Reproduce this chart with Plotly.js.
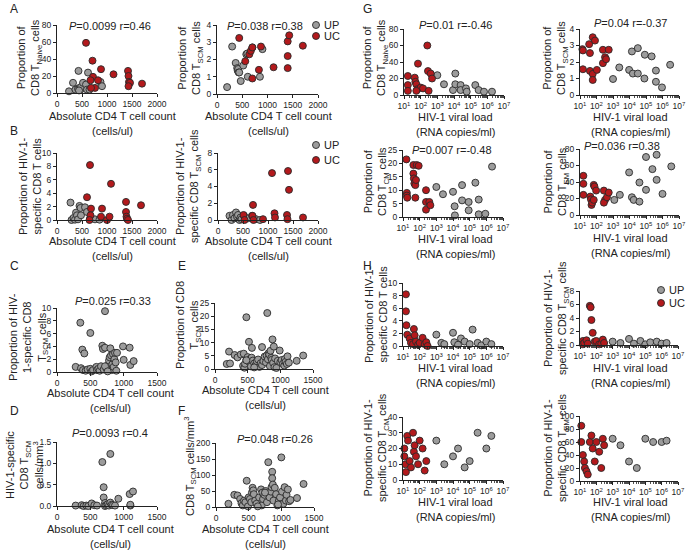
<!DOCTYPE html>
<html><head><meta charset="utf-8">
<script src="https://cdn.plot.ly/plotly-3.0.1.min.js"></script>
<style>html,body{margin:0;padding:0;background:#fff;overflow:hidden}</style>
</head><body><div id="chart" style="width:696px;height:553px"></div>
<script>
// ---------------- DATA ----------------
// Panel A (left): CD8 TNaive proportion vs CD4 count
const A1_UP_x = [240, 320, 370, 420, 430, 450, 470, 480, 520, 580, 600, 620, 650, 870, 900, 440];
const A1_UP_y = [2, 12, 4, 5, 26, 6, 4, 7, 12, 10, 4, 24, 4, 13, 8, 3];
const A1_UC_x = [580, 710, 720, 670, 880, 820, 760, 680, 1130, 1420, 1430, 1440, 1460, 1430, 1700];
const A1_UC_y = [59, 38, 19, 15, 28, 15, 6, 6, 22, 26, 20, 13, 12, 8, 11];
// Panel A (right): CD8 TSCM proportion vs CD4 count
const A2_UP_x = [200, 300, 370, 400, 410, 420, 430, 440, 470, 520, 580, 600, 610, 700, 850, 900];
const A2_UP_y = [0.4, 2.75, 1.8, 1.5, 1.35, 1.45, 1.25, 1.25, 0.75, 1.65, 2.3, 2.35, 1.0, 2.7, 1.0, 2.6];
const A2_UC_x = [440, 560, 640, 670, 700, 700, 830, 870, 1120, 1400, 1430, 1400, 1400, 1700];
const A2_UC_y = [3.25, 1.9, 2.3, 2.5, 2.7, 0.9, 1.4, 2.75, 1.55, 3.05, 3.4, 2.2, 1.5, 2.8];
// Panel B (left): HIV-1-specific CD8 T cells vs CD4 count
const B1_UP_x = [270, 290, 330, 360, 380, 400, 420, 450, 470, 480, 560, 600, 660, 760, 850];
const B1_UP_y = [2.6, 0, 0.3, 0.05, 1.1, 0.7, 0.1, 2.1, 1.8, 0.7, 1.9, 1.2, 0.2, 0.1, 0.05];
const B1_UC_x = [600, 660, 680, 670, 650, 880, 900, 1000, 1050, 1080, 1380, 1380, 1390, 1400, 1420, 1680];
const B1_UC_y = [3.4, 8.2, 1.7, 0.7, 0, 0.5, 1.7, 0, 0.5, 5.4, 2.7, 1.2, 0.5, 0.2, 0, 2.2];
// Panel B (right): HIV-1-specific CD8 TSCM vs CD4 count
const B2_UP_x = [230, 270, 300, 330, 360, 380, 400, 430, 450, 470, 520, 600, 680, 760, 840];
const B2_UP_y = [0.5, 0, 0.6, 0.2, 0.9, 0.4, 0.6, 0, 0.3, 0.1, 0.5, 0.2, 0.5, 0.1, 0];
const B2_UC_x = [510, 530, 700, 690, 710, 900, 1080, 1130, 1140, 1400, 1420, 1380, 1390, 1700];
const B2_UC_y = [0.6, 0, 1.8, 0.5, 0, 0.1, 5.6, 0.8, 0.3, 5.85, 3.6, 0.6, 0.1, 0.3];
// Panel C: HIV-1-specific CD8 TSCM proportion vs CD4
const C_x = [280, 360, 390, 430, 460, 500, 520, 540, 350, 380, 410, 500, 590, 600, 620, 640, 660, 680, 690, 700, 720, 720, 740, 760, 780, 790, 800, 810, 820, 830, 840, 850, 860, 870, 880, 890, 900, 990, 1000, 1090, 1100, 1150, 720, 760];
const C_y = [0.8, 0.6, 0.3, 0.2, 0.4, 0.5, 0.1, 0.3, 7.7, 3.5, 2.9, 6.1, 0.8, 0.3, 0.5, 0.2, 0.9, 4.1, 3.6, 0.4, 9.5, 3.8, 0.6, 1.0, 1.8, 2.3, 3.7, 2.6, 0.3, 1.2, 2.8, 0.8, 2.0, 3.0, 1.5, 0.2, 3.0, 4.0, 1.9, 3.8, 1.1, 1.7, 0.9, 0.1];
// Panel D: HIV-1-specific CD8 TSCM cells/mm3 vs CD4
const D_x = [280, 370, 400, 440, 470, 520, 560, 600, 680, 700, 700, 720, 720, 740, 760, 780, 800, 800, 820, 840, 870, 920, 1090, 1100, 1140, 1100];
const D_y = [0.01, 0.02, 0, 0.01, 0, 0.06, 0.02, 0.01, 1.03, 0.44, 0.2, 0.07, 0, 0.02, 0.04, 0.01, 1.22, 0.08, 0.03, 0.02, 0.01, 0.17, 0.28, 0.01, 0.34, 0.03];
// Panel E: CD8 TSCM proportion vs CD4
const E_x = [180, 230, 215, 300, 345, 395, 440, 480, 520, 565, 430, 450, 460, 480, 500, 520, 540, 550, 560, 580, 600, 620, 640, 660, 680, 700, 720, 720, 740, 760, 780, 790, 800, 810, 820, 830, 840, 850, 860, 870, 880, 890, 900, 910, 920, 940, 960, 990, 1000, 1020, 1040, 1060, 1070, 1080, 1100, 1110, 1130, 1250, 1350, 480, 600];
const E_y = [1.9, 2.1, 6.6, 5.3, 4.4, 5.5, 5.8, 19.6, 10.3, 8.0, 1.2, 0.5, 2.0, 3.5, 4.5, 2.8, 3.8, 1.0, 4.3, 3.2, 2.1, 1.4, 2.9, 3.6, 0.8, 2.2, 8.3, 1.5, 3.0, 4.7, 2.5, 5.1, 21.2, 3.7, 6.0, 5.5, 1.1, 6.9, 4.2, 3.5, 11.2, 2.3, 8.5, 0.7, 4.0, 0.4, 3.1, 7.0, 2.6, 3.4, 2.0, 1.3, 3.8, 2.7, 1.9, 4.8, 2.4, 3.1, 5.1, 3.3, 0.6];
// Panel F: CD8 TSCM cells/mm3 vs CD4
const F_x = [190, 280, 330, 370, 390, 410, 430, 450, 470, 490, 500, 520, 540, 550, 560, 570, 580, 600, 620, 660, 690, 700, 710, 720, 740, 760, 780, 800, 820, 840, 850, 860, 860, 870, 880, 900, 920, 940, 960, 980, 1000, 1010, 1030, 1050, 1070, 1080, 1100, 1120, 1140, 1240, 1340, 640, 750, 950];
const F_y = [10, 38, 36, 25, 12, 5, 20, 15, 82, 2, 30, 25, 15, 45, 60, 52, 40, 20, 10, 30, 55, 5, 45, 25, 38, 50, 15, 140, 30, 48, 62, 110, 90, 70, 20, 60, 40, 5, 18, 30, 155, 48, 10, 62, 20, 38, 55, 18, 22, 28, 72, 2, 45, 8];
// Panel G: vs HIV-1 viral load (RNA copies/ml)
const G1_UC_x = [17, 17, 17, 44, 48, 55, 63, 69, 100, 138, 250, 275, 300, 400, 480, 55];
const G1_UC_y = [23, 12, 5, 21, 16, 13, 7, 38, 9, 8, 60, 29, 5, 26, 20, 5];
const G1_UP_x = [1000, 2500, 8700, 12000, 12000, 25000, 25000, 52000, 58000, 190000, 300000, 630000, 1900000];
const G1_UP_y = [24, 13, 6, 26, 13, 12, 6, 8, 4, 12, 6, 4, 4];
const G2_UC_x = [14, 15, 15, 36, 40, 59, 81, 40, 59, 59, 105, 245, 245, 330, 380, 550];
const G2_UC_y = [2.78, 2.7, 1.56, 3.08, 2.54, 3.5, 3.3, 1.46, 1.28, 0.91, 1.52, 2.74, 1.93, 2.29, 2.17, 2.74];
const G2_UP_x = [1000, 2400, 9500, 14000, 16000, 32000, 32000, 80000, 85000, 220000, 400000, 400000, 930000, 2900000];
const G2_UP_y = [0.97, 1.67, 1.52, 2.64, 1.3, 2.84, 1.3, 1.0, 2.44, 2.34, 1.48, 0.8, 0.46, 1.83];
const G3_UC_x = [16, 17, 17, 18, 42, 42, 45, 48, 55, 60, 55, 66, 87, 240, 240, 240, 380, 440];
const G3_UC_y = [21.5, 9, 8, 7.2, 19.4, 16.2, 14.4, 12.5, 11.9, 13.8, 7.2, 19.4, 19.1, 10, 5.6, 2.75, 5.6, 4.4];
const G3_UP_x = [1000, 2500, 10000, 12500, 13000, 35000, 35000, 87000, 87000, 220000, 350000, 350000, 870000, 2200000];
const G3_UP_y = [11.2, 8.5, 9.4, 4, 0.6, 11.9, 6.2, 5.6, 2.5, 12.8, 6.5, 1.0, 1.2, 18.8];
const G4_UC_x = [16, 16, 16, 42, 46, 50, 55, 68, 75, 95, 68, 280, 330, 280, 430, 550];
const G4_UC_y = [47.5, 37.8, 24.4, 22.3, 19, 12.2, 15, 36.5, 34.5, 29.6, 18.3, 29.6, 18.3, 15, 21.5, 27.2];
const G4_UP_x = [1200, 2600, 9500, 14000, 18000, 40000, 40000, 100000, 100000, 245000, 440000, 440000, 1000000, 3400000];
const G4_UP_y = [18.3, 24.4, 51.6, 21.5, 18.3, 39.4, 16.2, 30.5, 70.3, 55.6, 73, 42.6, 25.6, 58.9];
// Panel H: HIV-1-specific subsets vs viral load
const H1_UC_x = [15, 15, 16, 18, 25, 30, 40, 45, 50, 60, 80, 100, 150, 200, 250, 300];
const H1_UC_y = [8.2, 5.5, 3.3, 1.8, 1.2, 0.5, 0.3, 2.7, 1.7, 0.7, 0.2, 0.5, 1.3, 0.3, 0.6, 0];
const H1_UP_x = [1000, 2000, 3000, 10000, 12000, 20000, 30000, 50000, 100000, 150000, 300000, 500000, 1000000, 2000000];
const H1_UP_y = [1.8, 0.5, 0.3, 2.1, 0.6, 0.2, 1.2, 0.7, 0.3, 2.6, 0.5, 0.1, 0.7, 0.3];
const H2_UC_x = [15, 15, 18, 25, 30, 40, 45, 50, 60, 80, 100, 150, 200, 250, 300];
const H2_UC_y = [0.6, 0.1, 0.3, 0.7, 0.2, 5.8, 5.6, 3.7, 1.8, 0.5, 0.6, 0.1, 0.2, 0.8, 0.3];
const H2_UP_x = [1000, 3000, 10000, 20000, 50000, 100000, 200000, 500000, 1000000, 2000000];
const H2_UP_y = [0.5, 0.3, 0.9, 0.2, 0.6, 0.1, 0.4, 0.5, 0.2, 0.3];
const H3_UC_x = [12, 12, 14, 15, 18, 20, 25, 30, 40, 45, 50, 60, 80, 100, 150, 200, 250];
const H3_UC_y = [15, 20, 10, 5, 28, 25, 12, 8, 30, 18, 22, 15, 10, 25, 20, 6, 12];
const H3_UP_x = [1000, 3000, 10000, 20000, 50000, 100000, 300000, 1000000, 2000000];
const H3_UP_y = [25, 10, 15, 20, 8, 12, 30, 20, 28];
const H4_UC_x = [12, 12, 15, 18, 20, 25, 30, 40, 50, 60, 80, 100, 150, 200, 250, 300];
const H4_UC_y = [85, 60, 40, 30, 20, 15, 10, 60, 70, 50, 30, 60, 45, 20, 65, 55];
const H4_UP_x = [1000, 3000, 10000, 30000, 100000, 300000, 1000000, 2000000];
const H4_UP_y = [65, 55, 30, 20, 65, 60, 60, 62];

const groupNames = ['UP', 'UC'];
const logTickVals = [10, 100, 1000, 10000, 100000, 1000000, 10000000];
const logTickText = ['10<sup>1</sup>','10<sup>2</sup>','10<sup>3</sup>','10<sup>4</sup>','10<sup>5</sup>','10<sup>6</sup>','10<sup>7</sup>'];

// ---------------- LAYOUT ----------------
const W = 696, H = 553;
const FONT = 'Liberation Sans, Arial, sans-serif';
const INK = '#222';
const GREY = '#9c9c9c', RED = '#b3191c';
const px = x => x / W, py = y => 1 - y / H;

const cd4Title = ['Absolute CD4 T cell count', '(cells/ul)'];
const vlTitle = ['HIV-1 viral load', '(RNA copies/ml)'];

// xtp = [center x, y of first title line]
const panels = [
  {dom:[57,157,25,93],   x:[0,2000,500], y:[0,80,20],  up:[A1_UP_x,A1_UP_y], uc:[A1_UC_x,A1_UC_y],
   yt:'Proportion of<br>CD8 T<sub>Naive</sub> cells', ytp:[30,58], xtp:[112,116], xt:cd4Title, p:'<i>P</i>=0.0099 r=0.46', pp:[110,26]},
  {dom:[217,318,25,94],  x:[0,2000,500], y:[0,4,1],    up:[A2_UP_x,A2_UP_y], uc:[A2_UC_x,A2_UC_y],
   yt:'Proportion of<br>CD8 T<sub>SCM</sub> cells', ytp:[191,58], xtp:[268,116], xt:cd4Title, p:'<i>P</i>=0.038 r=0.38', pp:[265,26]},
  {dom:[57,157,153,220], x:[0,2000,500], y:[0,10,2],   up:[B1_UP_x,B1_UP_y], uc:[B1_UC_x,B1_UC_y],
   yt:'Proportion of HIV-1-<br>specific CD8 T cells', ytp:[30,186], xtp:[112,241], xt:cd4Title},
  {dom:[218,318,153,220],x:[0,2000,500], y:[0,8,2],    up:[B2_UP_x,B2_UP_y], uc:[B2_UC_x,B2_UC_y],
   yt:'Proportion of HIV-1-<br>specific CD8 T<sub>SCM</sub> cells', ytp:[189,186], xtp:[268,241], xt:cd4Title},
  {dom:[57,157,308,372], x:[0,1500,500], y:[0,10,2],   up:[C_x,C_y],
   yt:'Proportion of HIV-<br>1-specific CD8<br>T<sub>SCM</sub> cells', ytp:[28,337], xtp:[110,393], xt:cd4Title, p:'<i>P</i>=0.025 r=0.33', pp:[113,301]},
  {dom:[57,157,442,506], x:[0,1500,500], y:[0,1.5,0.5], yfmt:'.1f', up:[D_x,D_y],
   yt:'HIV-1-specific<br>CD8 T<sub>SCM</sub><br>cells/mm<sup>3</sup>', ytp:[24,465], xtp:[110,529], xt:cd4Title, p:'<i>P</i>=0.0093 r=0.4', pp:[110,433]},
  {dom:[215,313,303,369],x:[0,1500,500], y:[0,25,5],   up:[E_x,E_y],
   yt:'Proportion of CD8<br>T<sub>SCM</sub> cells', ytp:[188,325], xtp:[265,390], xt:cd4Title},
  {dom:[216,314,443,507],x:[0,1500,500], y:[0,200,50], up:[F_x,F_y],
   yt:'CD8 T<sub>SCM</sub> cells/mm<sup>3</sup>', ytp:[190,467], xtp:[265,529], xt:cd4Title, p:'<i>P</i>=0.048 r=0.26', pp:[275,439]},
  {dom:[404,504,29,95],  log:true, y:[0,80,20], up:[G1_UP_x,G1_UP_y], uc:[G1_UC_x,G1_UC_y],
   yt:'Proportion of<br>CD8 T<sub>Naive</sub> cells', ytp:[376,58], xtp:[455,117], xt:vlTitle, p:'<i>P</i>=0.01 r=-0.46', pp:[455,25]},
  {dom:[580,679,29,95],  log:true, y:[0,4,1], up:[G2_UP_x,G2_UP_y], uc:[G2_UC_x,G2_UC_y],
   yt:'Proportion of<br>CD8 T<sub>SCM</sub> cells', ytp:[556,58], xtp:[630,117], xt:vlTitle, p:'<i>P</i>=0.04 r=-0.37', pp:[630,23]},
  {dom:[403,503,150,217],log:true, y:[0,25,5], up:[G3_UP_x,G3_UP_y], uc:[G3_UC_x,G3_UC_y],
   yt:'Proportion of<br>CD8 T<sub>CM</sub> cells', ytp:[376,182], xtp:[455,239], xt:vlTitle, p:'<i>P</i>=0.007 r=-0.48', pp:[452,150]},
  {dom:[580,679,149,215],log:true, y:[0,80,20], up:[G4_UP_x,G4_UP_y], uc:[G4_UC_x,G4_UC_y],
   yt:'Proportion of<br>CD8 T<sub>EM</sub> cells', ytp:[556,182], xtp:[630,238], xt:vlTitle, p:'<i>P</i>=0.036 r=0.38', pp:[622,146]},
  {dom:[403,503,283,346],log:true, y:[0,10,2], up:[H1_UP_x,H1_UP_y], uc:[H1_UC_x,H1_UC_y],
   yt:'Proportion of HIV-1-<br>specific CD8 T cells', ytp:[376,314], xtp:[455,368], xt:vlTitle},
  {dom:[580,678,291,345],log:true, y:[0,8,2], up:[H2_UP_x,H2_UP_y], uc:[H2_UC_x,H2_UC_y],
   yt:'Proportion of HIV-1-<br>specific CD8 T<sub>SCM</sub> cells', ytp:[556,318], xtp:[630,368], xt:vlTitle},
  {dom:[403,503,417,480],log:true, y:[0,40,10], up:[H3_UP_x,H3_UP_y], uc:[H3_UC_x,H3_UC_y],
   yt:'Proportion of HIV-1-<br>specific CD8 T<sub>CM</sub> cells', ytp:[376,448], xtp:[455,502], xt:vlTitle},
  {dom:[580,678,416,481],log:true, y:[0,100,20], up:[H4_UP_x,H4_UP_y], uc:[H4_UC_x,H4_UC_y],
   yt:'Proportion of HIV-1-<br>specific CD8 T<sub>EM</sub> cells', ytp:[556,448], xtp:[630,502], xt:vlTitle}
];

const layout = {
  width: W, height: H, margin: {l:0, r:0, t:0, b:0},
  paper_bgcolor: '#fff', plot_bgcolor: 'rgba(0,0,0,0)',
  showlegend: false, font: {family: FONT, color: INK, size: 11},
  annotations: [], shapes: []
};
const traces = [];

function ann(text, x, y, o) {
  layout.annotations.push(Object.assign({
    text, xref:'paper', yref:'paper', x: px(x), y: py(y), showarrow:false,
    xanchor:'center', yanchor:'middle', font:{family:FONT, size:11, color:INK}
  }, o || {}));
}

const axisBase = {
  showline:true, linecolor:INK, linewidth:1, ticks:'outside', ticklen:3, tickwidth:1,
  tickcolor:INK, showgrid:false, zeroline:false, fixedrange:true,
  tickfont:{family:FONT, size:8.5, color:INK}
};

const minorLog = [];
for (let e = 1; e < 7; e++) for (let m = 2; m <= 9; m++) minorLog.push(m * Math.pow(10, e));

panels.forEach((p, i) => {
  const n = i + 1, sx = n === 1 ? '' : String(n);
  const xa = Object.assign({}, axisBase, {
    domain: [px(p.dom[0]), px(p.dom[1])], anchor: 'y' + sx
  });
  if (p.log) {
    Object.assign(xa, {type:'log', range:[1, 7], tickmode:'array', tickvals: logTickVals, ticktext: logTickText,
      minor:{ticks:'outside', ticklen:1.5, tickwidth:0.8, tickcolor:INK, tickmode:'array', tickvals:minorLog}});
  } else {
    Object.assign(xa, {range:[p.x[0], p.x[1]], dtick:p.x[2], tick0:0});
  }
  const ya = Object.assign({}, axisBase, {
    domain: [py(p.dom[3]), py(p.dom[2])], anchor: 'x' + sx,
    range: [p.y[0], p.y[1]], dtick: p.y[2], tick0: 0
  });
  if (p.yfmt) ya.tickformat = p.yfmt;
  layout['xaxis' + sx] = xa;
  layout['yaxis' + sx] = ya;

  const mk = (xs, ys, col, name) => ({
    type:'scatter', mode:'markers', x: xs, y: ys, name, xaxis:'x' + sx, yaxis:'y' + sx,
    cliponaxis:false, hoverinfo:'skip',
    marker:{size:7, color:col, line:{color:'#2a2a2a', width:0.9}}
  });
  if (p.up) traces.push(mk(p.up[0], p.up[1], GREY, groupNames[0]));
  if (p.uc) traces.push(mk(p.uc[0], p.uc[1], RED, groupNames[1]));

  ann(p.yt, p.ytp[0], p.ytp[1], {textangle:-90});
  ann(p.xt[0], p.xtp[0], p.xtp[1]);
  ann(p.xt[1], p.xtp[0], p.xtp[1] + 15);
  if (p.p) ann(p.p, p.pp[0], p.pp[1]);
});

// panel letters
[['A',8,9],['B',8,131],['C',8,266],['D',8,411],['E',176,266],['F',176,411],['G',361,9],['H',361,266]]
  .forEach(l => ann(l[0], l[1], l[2], {xanchor:'left', font:{family:FONT, size:12, color:INK}}));

// legends (swatch + label)
function legend(x, y1, y2) {
  [[y1, GREY, groupNames[0]], [y2, RED, groupNames[1]]].forEach(r => {
    layout.shapes.push({type:'circle', xref:'paper', yref:'paper', xsizemode:'pixel', ysizemode:'pixel',
      xanchor: px(x), yanchor: py(r[0]), x0:-3.5, x1:3.5, y0:-3.5, y1:3.5,
      fillcolor:r[1], line:{color:'#2a2a2a', width:0.9}});
    ann(r[2], x + 6, r[0], {xanchor:'left', font:{family:FONT, size:11, color:INK}});
  });
}
legend(316, 25, 36);
legend(316, 145, 160);
legend(661, 290, 303);

Plotly.newPlot('chart', traces, layout, {staticPlot:true, displayModeBar:false});
</script></body></html>
